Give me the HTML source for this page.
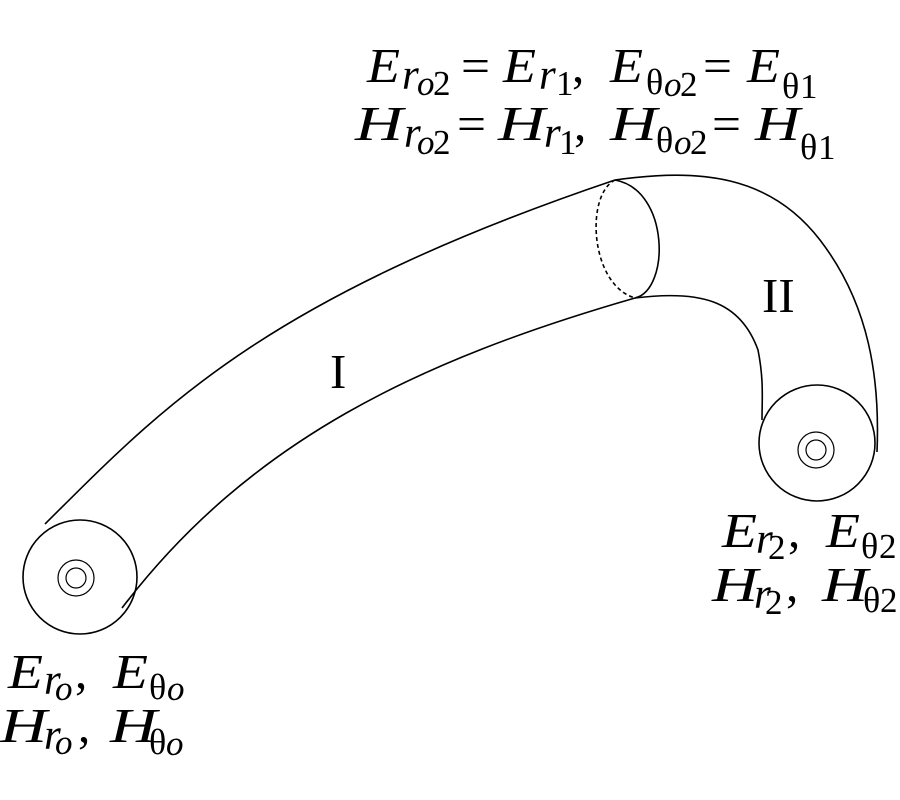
<!DOCTYPE html>
<html><head><meta charset="utf-8"><style>
html,body{margin:0;padding:0;background:#fff;}
svg{display:block;}
text{font-family:"Liberation Serif",serif;font-size:49px;fill:#000;}
.i{font-style:italic;}
.r{font-size:43px;font-style:italic;}
.s{font-size:35px;}
.t{font-size:36px;}
</style></head><body>
<svg width="900" height="800" viewBox="0 0 900 800" xmlns="http://www.w3.org/2000/svg">
<g fill="none" stroke="#000" stroke-width="1.6">
<path d="M45,524 C160,410 260,300 615,180"/>
<path d="M122,608 C250,440 420,360 635,298"/>
<path d="M615,180 C700,168 770,175 820,240 C870,305 880,380 877,452"/>
<path d="M635,298 C700,290 740,300 758,350 C764,380 762,400 762,420"/>
<path d="M615,180 C670,190 670,290 635,298"/>
<path d="M615,180 C585,195 590,285 635,298" stroke-dasharray="4,3"/>
<circle cx="80" cy="577" r="57"/>
<circle cx="76" cy="578" r="18" stroke-width="1.2"/>
<circle cx="76" cy="578" r="10" stroke-width="1.2"/>
<circle cx="817" cy="443" r="58"/>
<circle cx="816" cy="450" r="18" stroke-width="1.2"/>
<circle cx="816" cy="450" r="10" stroke-width="1.2"/>
</g>
<text x="330" y="388">I</text>
<text x="762" y="312">II</text>
<!-- line 1 -->
<text class="i" x="367" y="82" textLength="33" lengthAdjust="spacingAndGlyphs">E</text>
<text class="r" x="402" y="89">r</text>
<text class="s i" x="417" y="95">o</text>
<text class="s" x="433" y="95">2</text>
<text x="461" y="82" textLength="29" lengthAdjust="spacingAndGlyphs">=</text>
<text class="i" x="503" y="82" textLength="33" lengthAdjust="spacingAndGlyphs">E</text>
<text class="r" x="539" y="89">r</text>
<text class="s" x="556" y="95">1</text>
<text x="572" y="82">,</text>
<text class="i" x="610" y="82" textLength="33" lengthAdjust="spacingAndGlyphs">E</text>
<text class="t" x="646" y="94">θ</text>
<text class="s i" x="664" y="96">o</text>
<text class="s" x="680" y="96">2</text>
<text x="703" y="82" textLength="29" lengthAdjust="spacingAndGlyphs">=</text>
<text class="i" x="747" y="82" textLength="33" lengthAdjust="spacingAndGlyphs">E</text>
<text class="t" x="782" y="98">θ</text>
<text class="s" x="800" y="98">1</text>
<!-- line 2 -->
<text class="i" x="355" y="140" textLength="48" lengthAdjust="spacingAndGlyphs">H</text>
<text class="r" x="404" y="147">r</text>
<text class="s i" x="417" y="154">o</text>
<text class="s" x="433" y="154">2</text>
<text x="457" y="140" textLength="29" lengthAdjust="spacingAndGlyphs">=</text>
<text class="i" x="498" y="140" textLength="47" lengthAdjust="spacingAndGlyphs">H</text>
<text class="r" x="544" y="147">r</text>
<text class="s" x="559" y="154">1</text>
<text x="574" y="140">,</text>
<text class="i" x="610" y="140" textLength="47" lengthAdjust="spacingAndGlyphs">H</text>
<text class="t" x="656" y="152">θ</text>
<text class="s i" x="674" y="154">o</text>
<text class="s" x="690" y="154">2</text>
<text x="712" y="140" textLength="29" lengthAdjust="spacingAndGlyphs">=</text>
<text class="i" x="755" y="140" textLength="45" lengthAdjust="spacingAndGlyphs">H</text>
<text class="t" x="800" y="159">θ</text>
<text class="s" x="818" y="159">1</text>
<!-- right labels -->
<text class="i" x="722" y="547" textLength="35" lengthAdjust="spacingAndGlyphs">E</text>
<text class="r" x="756" y="553">r</text>
<text class="s" x="768" y="559">2</text>
<text x="788" y="547">,</text>
<text class="i" x="826" y="547" textLength="34" lengthAdjust="spacingAndGlyphs">E</text>
<text class="t" x="861" y="558">θ</text>
<text class="s" x="879" y="558">2</text>
<text class="i" x="712" y="601" textLength="46" lengthAdjust="spacingAndGlyphs">H</text>
<text class="r" x="754" y="608">r</text>
<text class="s" x="765" y="614">2</text>
<text x="786" y="601">,</text>
<text class="i" x="822" y="601" textLength="46" lengthAdjust="spacingAndGlyphs">H</text>
<text class="t" x="863" y="612">θ</text>
<text class="s" x="880" y="612">2</text>
<!-- left labels -->
<text class="i" x="8" y="688" textLength="35" lengthAdjust="spacingAndGlyphs">E</text>
<text class="r" x="44" y="694">r</text>
<text class="s i" x="55" y="700">o</text>
<text x="75" y="688">,</text>
<text class="i" x="113" y="688" textLength="35" lengthAdjust="spacingAndGlyphs">E</text>
<text class="t" x="149" y="699">θ</text>
<text class="s i" x="167" y="700">o</text>
<text class="i" x="0" y="742" textLength="47" lengthAdjust="spacingAndGlyphs">H</text>
<text class="r" x="44" y="749">r</text>
<text class="s i" x="55" y="754">o</text>
<text x="78" y="742">,</text>
<text class="i" x="110" y="742" textLength="47" lengthAdjust="spacingAndGlyphs">H</text>
<text class="t" x="149" y="754">θ</text>
<text class="s i" x="166" y="755">o</text>
</svg>
</body></html>
